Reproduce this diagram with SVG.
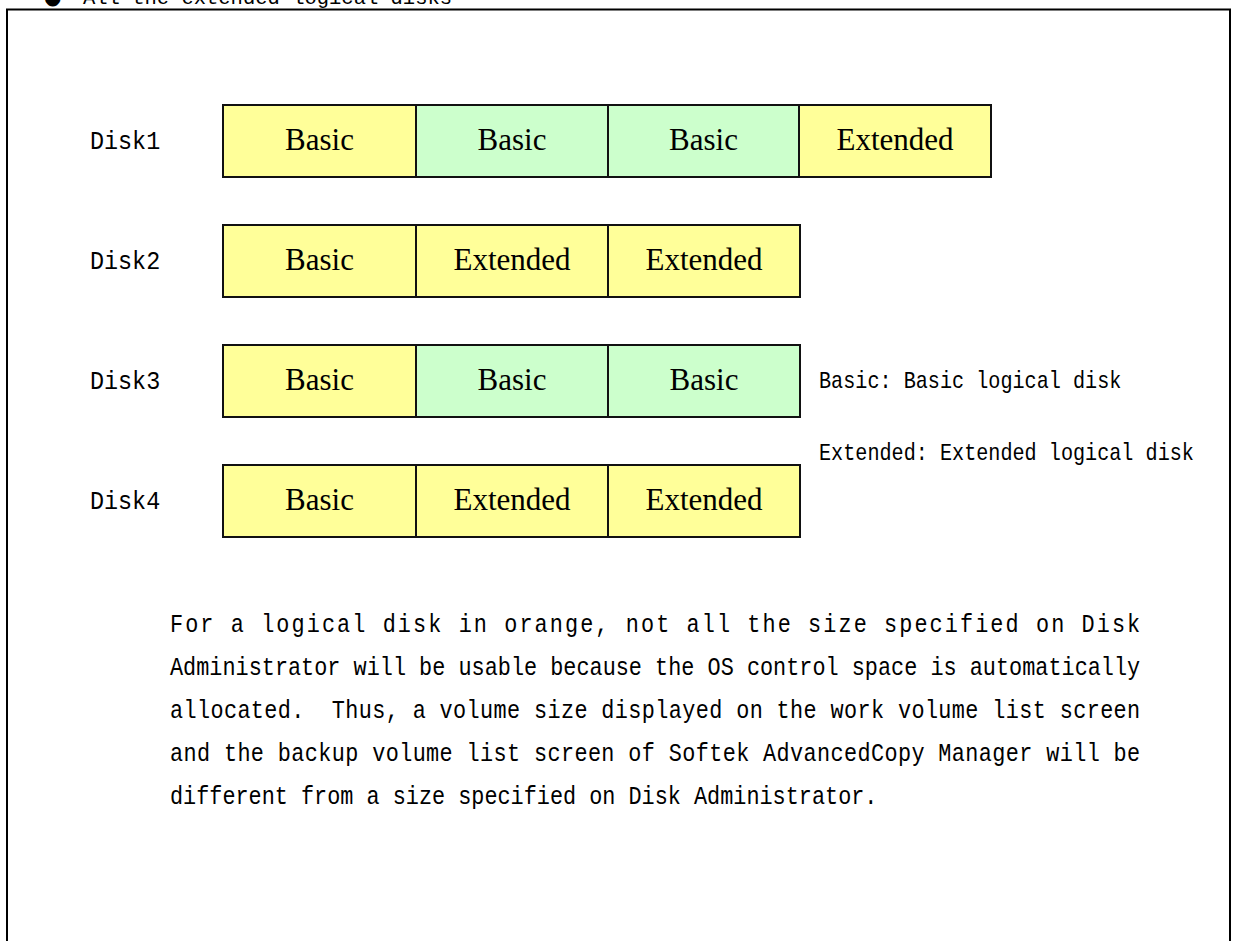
<svg xmlns="http://www.w3.org/2000/svg" width="1237" height="941" viewBox="0 0 1237 941">
<style>
.frame{fill:none;stroke:#000;stroke-width:2}
.cell{stroke:#111;stroke-width:2}
.y{fill:#FFFF99}
.g{fill:#CCFFCC}
.ct{font-family:"Liberation Serif","Times New Roman",serif;font-size:31px;fill:#000;text-anchor:middle}
.mono{font-family:"Liberation Mono","Courier New",monospace;fill:#000}
.lbl{font-size:26px}
.leg{font-size:24px}
.para{font-size:26px}
.ttl{font-size:20.5px}
</style>
<rect width="1237" height="941" fill="#fff"/>
<g id="title">
<text x="44" y="4" style="font-family:'DejaVu Sans',sans-serif;font-size:20px">●</text>
<text class="mono ttl" x="83" y="4">All the extended logical disks</text>
</g>
<rect class="frame" x="7" y="9.5" width="1223" height="960"/>
<g id="connectors"/>
<g id="disk1">
<text class="mono lbl" transform="translate(90,149) scale(0.9,1)">Disk1</text>
<g id="d1p1"><rect class="cell y" x="223" y="105" width="193" height="72"/><text class="ct" x="319.5" y="150">Basic</text></g>
<g id="d1p2"><rect class="cell g" x="416" y="105" width="192" height="72"/><text class="ct" x="512" y="150">Basic</text></g>
<g id="d1p3"><rect class="cell g" x="608" y="105" width="191" height="72"/><text class="ct" x="703.5" y="150">Basic</text></g>
<g id="d1p4"><rect class="cell y" x="799" y="105" width="192" height="72"/><text class="ct" x="895" y="150">Extended</text></g>
</g>
<g id="disk2">
<text class="mono lbl" transform="translate(90,269) scale(0.9,1)">Disk2</text>
<g id="d2p1"><rect class="cell y" x="223" y="225" width="193" height="72"/><text class="ct" x="319.5" y="270">Basic</text></g>
<g id="d2p2"><rect class="cell y" x="416" y="225" width="192" height="72"/><text class="ct" x="512" y="270">Extended</text></g>
<g id="d2p3"><rect class="cell y" x="608" y="225" width="192" height="72"/><text class="ct" x="704" y="270">Extended</text></g>
</g>
<g id="disk3">
<text class="mono lbl" transform="translate(90,389) scale(0.9,1)">Disk3</text>
<g id="d3p1"><rect class="cell y" x="223" y="345" width="193" height="72"/><text class="ct" x="319.5" y="390">Basic</text></g>
<g id="d3p2"><rect class="cell g" x="416" y="345" width="192" height="72"/><text class="ct" x="512" y="390">Basic</text></g>
<g id="d3p3"><rect class="cell g" x="608" y="345" width="192" height="72"/><text class="ct" x="704" y="390">Basic</text></g>
</g>
<g id="disk4">
<text class="mono lbl" transform="translate(90,509) scale(0.9,1)">Disk4</text>
<g id="d4p1"><rect class="cell y" x="223" y="465" width="193" height="72"/><text class="ct" x="319.5" y="510">Basic</text></g>
<g id="d4p2"><rect class="cell y" x="416" y="465" width="192" height="72"/><text class="ct" x="512" y="510">Extended</text></g>
<g id="d4p3"><rect class="cell y" x="608" y="465" width="192" height="72"/><text class="ct" x="704" y="510">Extended</text></g>
</g>
<g id="legend">
<text class="mono leg" transform="translate(819,388) scale(0.84,1)">Basic: Basic logical disk</text>
<text class="mono leg" transform="translate(819,460) scale(0.84,1)">Extended: Extended logical disk</text>
</g>
<g id="note">
<text class="mono para" transform="translate(170,632) scale(0.84,1)" textLength="1155" lengthAdjust="spacing">For a logical disk in orange, not all the size specified on Disk</text>
<text class="mono para" transform="translate(170,675) scale(0.84,1)" textLength="1155" lengthAdjust="spacing">Administrator will be usable because the OS control space is automatically</text>
<text class="mono para" transform="translate(170,718) scale(0.84,1)" textLength="1155" lengthAdjust="spacing" xml:space="preserve">allocated.  Thus, a volume size displayed on the work volume list screen</text>
<text class="mono para" transform="translate(170,761) scale(0.84,1)" textLength="1155" lengthAdjust="spacing">and the backup volume list screen of Softek AdvancedCopy Manager will be</text>
<text class="mono para" transform="translate(170,804) scale(0.84,1)">different from a size specified on Disk Administrator.</text>
</g>
</svg>
